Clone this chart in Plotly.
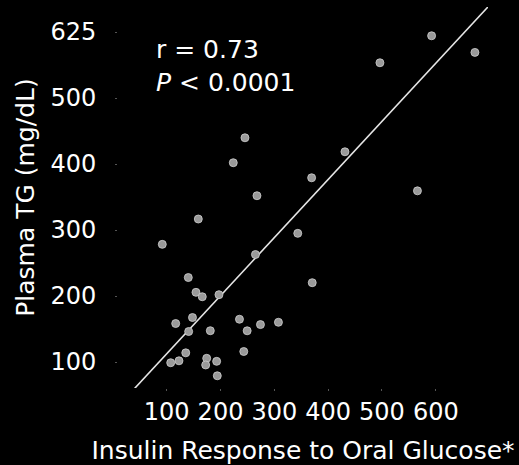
import plotly.graph_objects as go

# Insulin response to oral glucose (x) vs plasma triglyceride (y)
insulin = [91.8, 158.7, 140.1, 154.4, 166.1, 197.1, 116.7, 147.9, 140.8, 181.0,
           135.4, 122.8, 107.4, 174.3, 172.4, 192.8, 194.0, 223.7, 245.4, 267.7,
           264.9, 235.2, 249.5, 274.2, 307.6, 243.2, 343.5, 369.3, 370.4, 431.2,
           496.2, 592.2, 565.9, 672.7]
plasma_tg = [278.3, 316.7, 228.0, 205.6, 198.9, 202.0, 158.3, 167.4, 146.2, 147.4,
             113.9, 101.8, 98.9, 105.6, 95.5, 101.0, 79.1, 402.0, 439.8, 352.0,
             262.9, 164.8, 147.3, 156.7, 160.2, 115.9, 295.0, 379.2, 220.2, 418.6,
             553.5, 594.4, 359.4, 569.2]

# Regression line
fit_slope = 0.8806
fit_intercept = 24.4
fit_x = [0, 720]

x_tick_vals = [100, 200, 300, 400, 500, 600]
x_tick_text = ["100", "200", "300", "400", "500", "600"]
y_tick_vals = [100, 200, 300, 400, 500, 600]
y_tick_text = ["100", "200", "300", "400", "500", "625"]

stats_text = "r = 0.73<br><i>P</i> < 0.0001"

font = "DejaVu Sans, Verdana, sans-serif"

fig = go.Figure()
fig.add_trace(go.Scatter(
    x=fit_x,
    y=[fit_intercept + fit_slope * v for v in fit_x],
    mode="lines",
    line=dict(color="#e6e6e6", width=1.6),
    hoverinfo="skip",
    showlegend=False,
))
fig.add_trace(go.Scatter(
    x=insulin,
    y=plasma_tg,
    mode="markers",
    marker=dict(size=8, color="#9a9a9a", line=dict(color="#cfcfcf", width=0.8)),
    showlegend=False,
))

fig.add_annotation(
    x=0, y=1, xref="paper", yref="paper",
    xshift=36, yshift=-26,
    xanchor="left", yanchor="top", align="left",
    text=stats_text, showarrow=False,
    font=dict(family=font, size=25, color="white"),
)

fig.update_layout(
    width=519, height=465,
    margin=dict(l=118, r=31, t=7, b=77),
    paper_bgcolor="black", plot_bgcolor="black",
    font=dict(family=font, color="white"),
    xaxis=dict(
        range=[9.5, 697], automargin=False,
        tickvals=x_tick_vals, ticktext=x_tick_text,
        tickfont=dict(size=24, color="white"),
        ticks="outside", ticklen=2, tickcolor="#555555",
        showgrid=False, zeroline=False, showline=False,
        title=dict(text="Insulin Response to Oral Glucose*",
                   font=dict(size=25, color="white"), standoff=18),
    ),
    yaxis=dict(
        range=[60.6, 638], automargin=False,
        tickvals=y_tick_vals, ticktext=y_tick_text,
        tickfont=dict(size=24, color="white"),
        ticks="outside", ticklen=2, tickcolor="#555555",
        ticklabelstandoff=14,
        showgrid=False, zeroline=False, showline=False,
        title=dict(text="Plasma TG (mg/dL)",
                   font=dict(size=25, color="white"), standoff=8),
    ),
)

fig.write_html("out.html")
